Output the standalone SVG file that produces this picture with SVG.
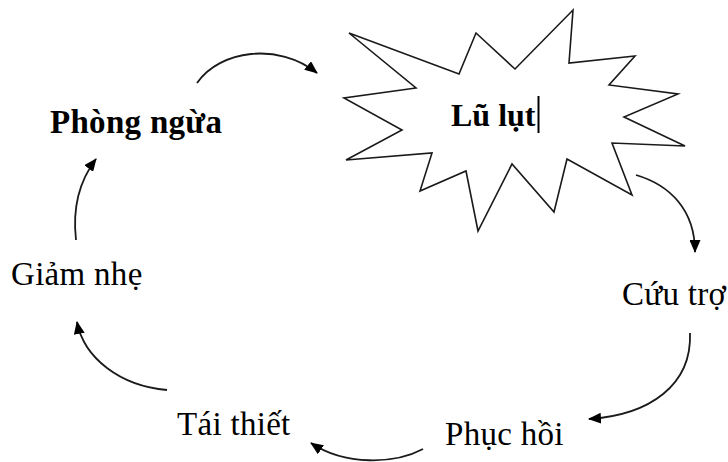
<svg xmlns="http://www.w3.org/2000/svg" width="728" height="462" viewBox="0 0 728 462">
<style>
.t{font-family:"Liberation Serif","Times New Roman",serif;font-size:33px;letter-spacing:0.3px;fill:#000}
.b{font-weight:bold}
.l{font-size:32px;letter-spacing:0}
.c{fill:none;stroke:#1a1a1a;stroke-width:1.8}
.star{fill:#fff;stroke:#1a1a1a;stroke-width:1.6;stroke-linejoin:miter}
</style>
<defs>
<marker id="ah" viewBox="0 0 13 11" refX="12" refY="5.5" markerWidth="13" markerHeight="11" markerUnits="userSpaceOnUse" orient="auto">
<path d="M0,0 L13,5.5 L0,11 z" fill="#000"/>
</marker>
</defs>
<rect width="728" height="462" fill="#fff"/>
<g id="lu-lut">
<polygon class="star" points="349,33 459,74 476,33 515,69 573,10 569,63 635,56 609,85 678,94 624,117 685,146 612,143 632,195 567,159 554,212 512,164 478,231 466,171 420,191 432,153 346,160 402,130 344,98 416,88"/>
<text class="t b l" x="451" y="126">Lũ lụt</text>
<rect x="537.5" y="96" width="2" height="37" fill="#000"/>
</g>
<g id="phong-ngua"><text class="t b" x="50" y="133">Phòng ngừa</text></g>
<g id="giam-nhe"><text class="t" x="11" y="285">Giảm nhẹ</text></g>
<g id="cuu-tro"><text class="t" x="622" y="305">Cứu trợ</text></g>
<g id="phuc-hoi"><text class="t" x="445" y="445">Phục hồi</text></g>
<g id="tai-thiet"><text class="t" x="177" y="435">Tái thiết</text></g>
<g id="connectors">
<path class="c" marker-end="url(#ah)" d="M197,83 C220,50 278,42 317,73"/>
<path class="c" marker-end="url(#ah)" d="M636,175 C670,185 695,210 695,252"/>
<path class="c" marker-end="url(#ah)" d="M690,333 C692,385 650,415 589,419"/>
<path class="c" marker-end="url(#ah)" d="M423,449 C395,464 345,466 311,443"/>
<path class="c" marker-end="url(#ah)" d="M167,390 C120,386 84,358 77,322"/>
<path class="c" marker-end="url(#ah)" d="M76,240 C72,205 80,180 96,159"/>
</g>
</svg>
